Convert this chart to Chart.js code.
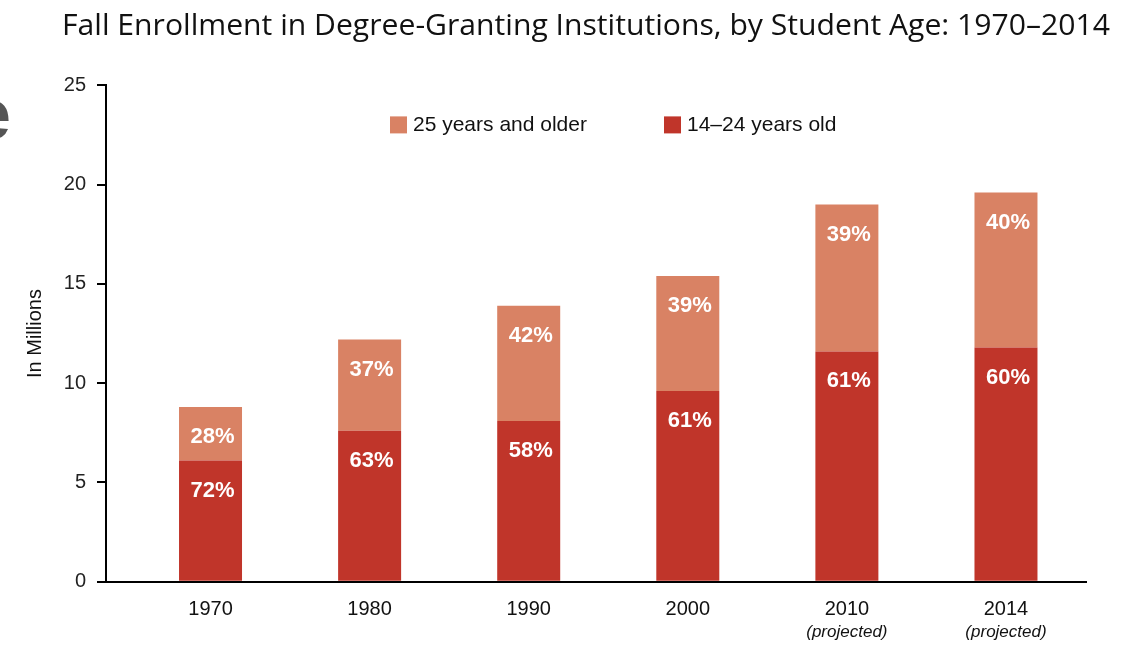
<!DOCTYPE html>
<html><head><meta charset="utf-8">
<script src="https://cdn.jsdelivr.net/npm/chart.js@4.4.1/dist/chart.umd.min.js"></script>
<style>
html,body{margin:0;padding:0;background:#fff;overflow:hidden}
#wrap{position:relative;width:1123px;height:646px;overflow:hidden}
canvas{position:absolute;left:0;top:0}
#title{position:absolute;left:62px;top:3px;font-family:"Open Sans";font-size:30px;color:#111;white-space:nowrap;transform-origin:0 0;line-height:normal}
#frag{position:absolute;left:-29px;top:73px;font-family:"Liberation Sans";font-weight:bold;font-size:72px;color:#555;line-height:normal}
</style></head><body>
<div id="wrap">
<canvas id="c" width="1123" height="646"></canvas>
<div id="title">Fall Enrollment in Degree-Granting Institutions, by Student Age: 1970–2014</div>
<div id="frag">e</div>
</div>
<script>
const categories = ['1970', '1980', '1990', '2000', '2010', '2014'];
const subLabels = ['', '', '', '', '(projected)', '(projected)'];
const age14to24 = [6.1, 7.6, 8.1, 9.6, 11.6, 11.8];
const age25plus = [2.7, 4.6, 5.8, 5.8, 7.4, 7.8];
const pct14to24 = ['72%', '63%', '58%', '61%', '61%', '60%'];
const pct25plus = ['28%', '37%', '42%', '39%', '39%', '40%'];
const yTicks = [0, 5, 10, 15, 20, 25];
const seriesNames = ['14–24 years old', '25 years and older'];

// fit title width
const t = document.getElementById('title');
const tw = t.getBoundingClientRect().width;
t.style.transform = 'scaleX(' + (1048 / tw) + ')';

const DARK = '#C0352A', LIGHT = '#D98264';

const pctPlugin = {
  id: 'pct',
  afterDatasetsDraw(chart) {
    const ctx = chart.ctx;
    chart.data.datasets.forEach((ds, di) => {
      const meta = chart.getDatasetMeta(di);
      meta.data.forEach((el, i) => {
        ctx.save();
        ctx.fillStyle = '#fff';
        ctx.font = 'bold 22px "Liberation Sans"';
        ctx.textAlign = 'center';
        ctx.textBaseline = 'middle';
        ctx.fillText(ds.pct[i], el.x + 2, el.y + 30);
        ctx.restore();
      });
    });
  }
};

const legendPlugin = {
  id: 'customLegend',
  afterDraw(chart) {
    const ctx = chart.ctx;
    const a = chart.chartArea;
    const order = [1, 0];
    const xs = [284, 558];
    order.forEach((di, k) => {
      const ds = chart.data.datasets[di];
      const x = a.left + xs[k], y = a.top + 31;
      ctx.save();
      ctx.fillStyle = ds.backgroundColor;
      ctx.fillRect(x, y, 17, 17);
      ctx.fillStyle = '#111';
      ctx.font = '21px "Liberation Sans"';
      ctx.textAlign = 'left';
      ctx.textBaseline = 'middle';
      ctx.fillText(ds.label, x + 23, y + 9);
      ctx.restore();
    });
  }
};

const subLabelPlugin = {
  id: 'subLabels',
  afterDraw(chart) {
    const ctx = chart.ctx;
    const xs = chart.scales.x;
    ctx.save();
    ctx.fillStyle = '#111';
    ctx.font = 'italic 17px "Liberation Sans"';
    ctx.textAlign = 'center';
    ctx.textBaseline = 'middle';
    subLabels.forEach((s, i) => {
      if (s) ctx.fillText(s, xs.getPixelForValue(i), 632);
    });
    ctx.restore();
  }
};

new Chart(document.getElementById('c'), {
  type: 'bar',
  data: {
    datasets: [
      { label: seriesNames[0], data: age14to24.map((v, i) => ({ x: i, y: v })), backgroundColor: DARK, pct: pct14to24 },
      { label: seriesNames[1], data: age25plus.map((v, i) => ({ x: i, y: v })), backgroundColor: LIGHT, pct: pct25plus }
    ]
  },
  options: {
    responsive: false,
    animation: false,
    devicePixelRatio: 1,
    layout: { padding: { left: 0, top: 85.4, right: 37, bottom: 0 } },
    plugins: { legend: { display: false }, tooltip: { enabled: false }, title: { display: false } },
    datasets: { bar: { barPercentage: 0.396, categoryPercentage: 1 } },
    scales: {
      x: {
        type: 'linear', stacked: true, offset: false, min: -0.657, max: 5.503,
        grid: { display: false, drawTicks: false, offset: false },
        border: { display: true, color: '#000', width: 2 },
        afterBuildTicks: s => { s.ticks = categories.map((_, i) => ({ value: i })); },
        ticks: { callback: v => categories[v] ?? '', font: { family: 'Liberation Sans', size: 20 }, color: '#111', padding: 16, maxRotation: 0, autoSkip: false },
        afterFit: s => { s.height = 646 - 581.7; }
      },
      y: {
        stacked: true, min: 0, max: 25,
        afterBuildTicks: s => { s.ticks = yTicks.map(v => ({ value: v })); },
        grid: { drawOnChartArea: false, drawTicks: true, tickLength: 9, tickColor: '#000', lineWidth: 2 },
        border: { display: true, color: '#000', width: 2 },
        ticks: { font: { family: 'Liberation Sans', size: 20 }, color: '#222', padding: 11 },
        title: { display: true, text: 'In Millions', font: { family: 'Liberation Sans', size: 20 }, color: '#111', padding: { top: 23, bottom: 0 } },
        afterFit: s => { s.width = 106; }
      }
    }
  },
  plugins: [pctPlugin, legendPlugin, subLabelPlugin]
});
</script>
</body></html>
